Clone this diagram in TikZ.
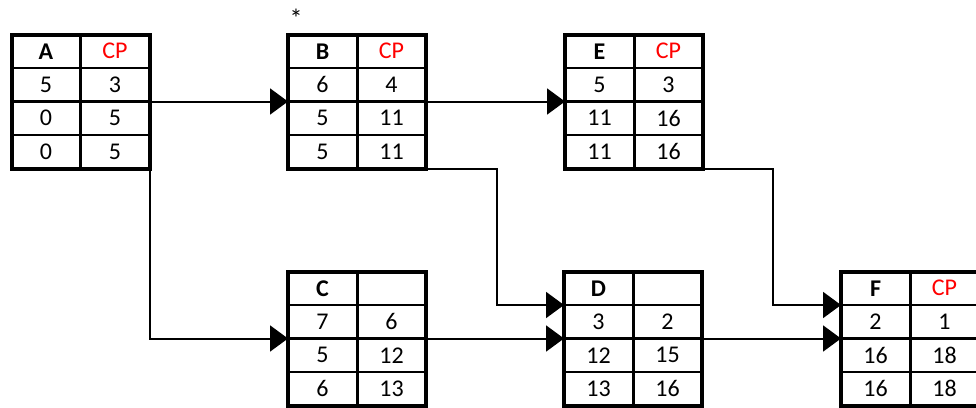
\documentclass[tikz,border=0pt]{standalone}
\usepackage{fontspec}
\setmainfont{Carlito}
\usetikzlibrary{arrows.meta,calc}
\definecolor{cpred}{RGB}{255,0,0}
\tikzset{
  tablebox/.style={draw, line width=4pt, minimum width=138pt, minimum height=134pt, outer sep=0pt, inner sep=0pt, anchor=north west},
  thinrule/.style={line width=2pt},
  midrule/.style={line width=3.5pt},
  colrule/.style={line width=3pt},
  cell/.style={font=\fontsize{24}{27}\selectfont, inner sep=0pt, anchor=center},
  conn/.style={line width=2pt, -{Triangle[length=18pt,width=26pt]}},
}
\newcommand\acttable[6]{%
  \node[tablebox] (#1) at (#2,#3) {};
  \coordinate (#1-in) at ($(#1.north west)!.25!(#1.south west)$);
  \draw[thinrule] (#1-in) -- ($(#1.north east)!.25!(#1.south east)$);
  \draw[midrule] (#1.west) -- (#1.east);
  \draw[thinrule] ($(#1.north west)!.75!(#1.south west)$) -- ($(#1.north east)!.75!(#1.south east)$);
  \draw[colrule] ($(#1.north west)!.5!(#1.north east)$) -- ($(#1.south west)!.5!(#1.south east)$);
  \node[cell] (#1-h) at ($(#1.north west)+(34.5,16.75)$) {\textbf{#4}};
  \node[cell, text=cpred] (#1-cp) at ($(#1.north west)+(103.5,16.75)$) {#5};
  \foreach \a/\b [count=\i] in {#6} {
    \node[cell] (#1-\i a) at ($(#1.north west)+(34.5,16.75+33.5*\i)$) {\a};
    \node[cell] (#1-\i b) at ($(#1.north west)+(103.5,16.75+33.5*\i)$) {\b};
  }%
}
\begin{document}
\begin{tikzpicture}[x=1pt, y=-1pt]
\useasboundingbox (0,0) rectangle (976,407);
\acttable{A}{11.5}{34.5}{A}{CP}{5/3,0/5,0/5}
\acttable{B}{288}{34.5}{B}{CP}{6/4,5/11,5/11}
\acttable{E}{565}{34.5}{E}{CP}{5/3,11/16,11/16}
\acttable{C}{288}{271.5}{C}{}{7/6,5/12,6/13}
\acttable{D}{564}{271.5}{D}{}{3/2,12/15,13/16}
\acttable{F}{841}{271.5}{F}{CP}{2/1,16/18,16/18}
\node[font=\fontsize{26}{30}\selectfont, inner sep=0pt] (star) at (296,18) {*};
\coordinate (BD) at (496.5,0);
\coordinate (EF) at (773,0);
\draw[conn] (A.east) -- (B.west);
\draw[conn] (B.east) -- (E.west);
\draw[conn] (A.south east) |- (C.west);
\draw[conn] (C.east) -- (D.west);
\draw[conn] (D.east) -- (F.west);
\draw[conn] (B.south east) -- (B.south east -| BD) |- (D-in);
\draw[conn] (E.south east) -- (E.south east -| EF) |- (F-in);
\end{tikzpicture}
\end{document}
